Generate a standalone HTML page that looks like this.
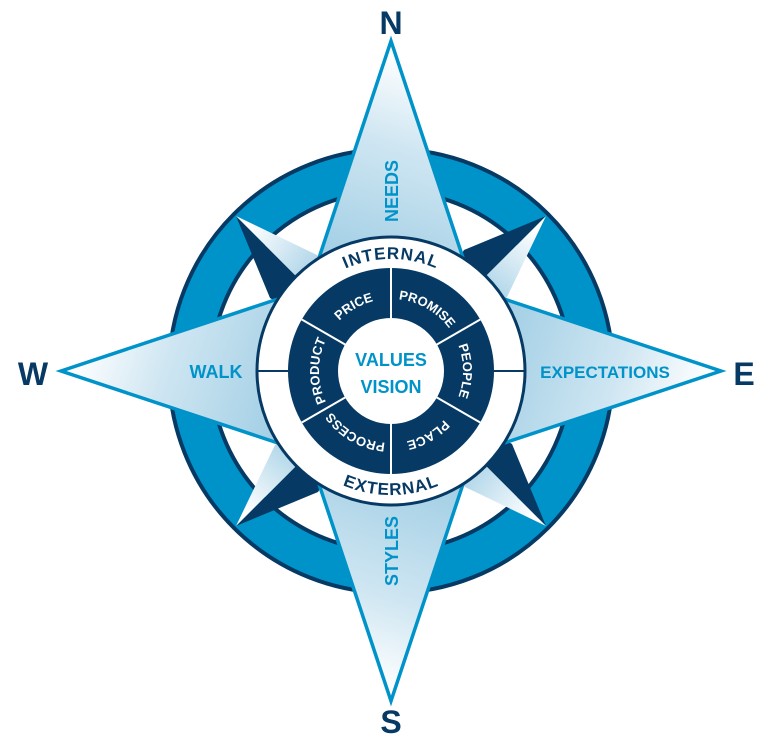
<!DOCTYPE html>
<html><head><meta charset="utf-8"><style>
html,body{margin:0;padding:0;background:#fff;}
svg{display:block;}
text{font-family:"Liberation Sans",sans-serif;font-weight:bold;}
</style></head><body>
<svg width="778" height="748" viewBox="0 0 778 748" xmlns="http://www.w3.org/2000/svg">
<defs>
<linearGradient id="gN" gradientUnits="userSpaceOnUse" x1="420" y1="60" x2="340" y2="300"><stop offset="0" stop-color="#ffffff"/><stop offset="0.35" stop-color="#cfe6f2"/><stop offset="1" stop-color="#95c8e1"/></linearGradient>
<linearGradient id="gD" gradientUnits="userSpaceOnUse" x1="250" y1="225" x2="320" y2="280"><stop offset="0" stop-color="#ffffff"/><stop offset="1" stop-color="#a3cfe5"/></linearGradient>
<path id="segP" d="M391,299 A72,72 0 1 1 391,443 A72,72 0 1 1 391,299"/>
<path id="intP" d="M279,371 A112,112 0 0 1 503,371"/>
<path id="extP" d="M267,371 A124,124 0 0 0 515,371"/>
</defs>
<circle cx="391" cy="371" r="201" fill="none" stroke="#0093c9" stroke-width="42"/>
<circle cx="391" cy="371" r="222" fill="none" stroke="#063a64" stroke-width="4"/>
<circle cx="391" cy="371" r="180" fill="none" stroke="#063a64" stroke-width="4"/>
<g id="dg">
<polygon points="236,216 270,298 391,371" fill="#063a64"/>
<polygon points="236,216 317,255 391,371" fill="url(#gD)"/>
</g>
<use href="#dg" transform="rotate(90 391 371)"/>
<use href="#dg" transform="rotate(180 391 371)"/>
<use href="#dg" transform="rotate(270 391 371)"/>
<g id="mp">
<polygon points="391,41 473.25,288.75 391,371 308.75,288.75" fill="url(#gN)" stroke="#0093c9" stroke-width="3.5"/>
</g>
<use href="#mp" transform="rotate(90 391 371)"/>
<use href="#mp" transform="rotate(180 391 371)"/>
<use href="#mp" transform="rotate(270 391 371)"/>
<circle cx="391" cy="371" r="134" fill="#fff" stroke="#063a64" stroke-width="3"/>
<circle cx="391" cy="371" r="103" fill="#063a64"/>
<g stroke="#fff" stroke-width="2">
<line x1="391" y1="371" x2="391" y2="268"/>
<line x1="391" y1="371" x2="391" y2="474"/>
<line x1="391" y1="371" x2="480.2" y2="319.5"/>
<line x1="391" y1="371" x2="480.2" y2="422.5"/>
<line x1="391" y1="371" x2="301.8" y2="319.5"/>
<line x1="391" y1="371" x2="301.8" y2="422.5"/>
</g>
<g stroke="#063a64" stroke-width="2">
<line x1="257" y1="371" x2="288" y2="371"/>
<line x1="494" y1="371" x2="525" y2="371"/>
</g>
<circle cx="391" cy="371" r="53" fill="#fff"/>
<g fill="#fff" font-size="13">
<text><textPath href="#segP" startOffset="8.33%" text-anchor="middle">PROMISE</textPath></text>
<text><textPath href="#segP" startOffset="25%" text-anchor="middle">PEOPLE</textPath></text>
<text><textPath href="#segP" startOffset="41.67%" text-anchor="middle">PLACE</textPath></text>
<text><textPath href="#segP" startOffset="58.33%" text-anchor="middle">PROCESS</textPath></text>
<text><textPath href="#segP" startOffset="75%" text-anchor="middle">PRODUCT</textPath></text>
<text><textPath href="#segP" startOffset="91.67%" text-anchor="middle">PRICE</textPath></text>
</g>
<g fill="#063a64" font-size="17" letter-spacing="1">
<text><textPath href="#intP" startOffset="50%" text-anchor="middle">INTERNAL</textPath></text>
<text><textPath href="#extP" startOffset="50%" text-anchor="middle">EXTERNAL</textPath></text>
</g>
<g fill="#0093c9" font-size="18" text-anchor="middle">
<text x="391" y="366">VALUES</text>
<text x="391" y="393">VISION</text>
<text x="216" y="378">WALK</text>
<text x="605" y="378" font-size="17">EXPECTATIONS</text>
<text transform="translate(398,191) rotate(-90)">NEEDS</text>
<text transform="translate(398,551) rotate(-90)">STYLES</text>
</g>
<g fill="#063a64" font-size="32" text-anchor="middle">
<text x="391" y="34">N</text>
<text x="391" y="733">S</text>
<text x="33" y="385">W</text>
<text x="744" y="385">E</text>
</g>
</svg>
</body></html>
